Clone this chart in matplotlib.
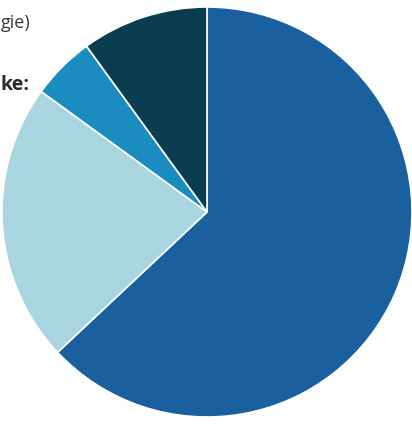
import matplotlib.pyplot as plt

shares = [63, 22, 5, 10]
colors = ['#1a5f9e', '#a9d5e0', '#1b8cc0', '#0b3d51']
text_top = 'gie)'
text_mid = 'ke:'

fig = plt.figure(figsize=(4.12, 4.24), dpi=100)
ax = fig.add_axes([0, 0, 1, 1])
ax.pie(shares, colors=colors, startangle=90, counterclock=False, radius=205,
       center=(207, 212), wedgeprops=dict(edgecolor='white', linewidth=1.2))
ax.set_xlim(0, 412)
ax.set_ylim(0, 424)
ax.set_aspect('equal')
ax.axis('off')

fig.text(1 / 412, 1 - 28 / 424, text_top, ha='left', va='baseline',
         fontsize=13, color='#3a3a3a', family='Open Sans')
fig.text(1 / 412, 1 - 90 / 424, text_mid, ha='left', va='baseline',
         fontsize=14, fontweight='bold', color='#2a2a2a', family='Open Sans')

fig.savefig('out.png', dpi=100, facecolor='white')
